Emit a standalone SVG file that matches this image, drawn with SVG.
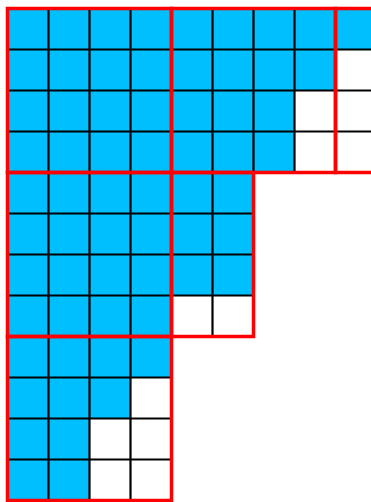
<svg xmlns="http://www.w3.org/2000/svg" width="371" height="502" viewBox="0 0 371 502">
<style>
.blue{fill:#00bfff;stroke:none}
.grid{fill:none;stroke:#000;stroke-width:2.2}
.box{fill:none;stroke:#ff0000;stroke-width:3.5}
</style>
<rect x="0" y="0" width="371" height="502" fill="#fff"/>
<g id="cells">
<rect class="blue" x="7.5" y="8.5" width="369" height="41"/>
<rect class="blue" x="7.5" y="49.5" width="328" height="41"/>
<rect class="blue" x="7.5" y="90.5" width="287" height="82"/>
<rect class="blue" x="7.5" y="172.5" width="246" height="123"/>
<rect class="blue" x="7.5" y="295.5" width="164" height="82"/>
<rect class="blue" x="7.5" y="377.5" width="123" height="41"/>
<rect class="blue" x="7.5" y="418.5" width="82" height="82"/>
</g>
<g id="grid" class="grid">
<path d="M7.5 8.5H376.5M7.5 49.5H376.5M7.5 90.5H376.5M7.5 131.5H376.5M7.5 172.5H376.5M7.5 213.5H253.5M7.5 254.5H253.5M7.5 295.5H253.5M7.5 336.5H253.5M7.5 377.5H171.5M7.5 418.5H171.5M7.5 459.5H171.5M7.5 500.5H171.5"/>
<path d="M7.5 8.5V500.5M48.5 8.5V500.5M89.5 8.5V500.5M130.5 8.5V500.5M171.5 8.5V500.5M212.5 8.5V336.5M253.5 8.5V336.5M294.5 8.5V172.5M335.5 8.5V172.5"/>
</g>
<g id="blocks" class="box">
<rect id="b1" x="7.5" y="8.5" width="164" height="164"/>
<rect id="b2" x="171.5" y="8.5" width="164" height="164"/>
<rect id="b3" x="335.5" y="8.5" width="164" height="164"/>
<rect id="b4" x="7.5" y="172.5" width="164" height="164"/>
<rect id="b5" x="171.5" y="172.5" width="82" height="164"/>
<rect id="b6" x="7.5" y="336.5" width="164" height="164"/>
</g>
</svg>
